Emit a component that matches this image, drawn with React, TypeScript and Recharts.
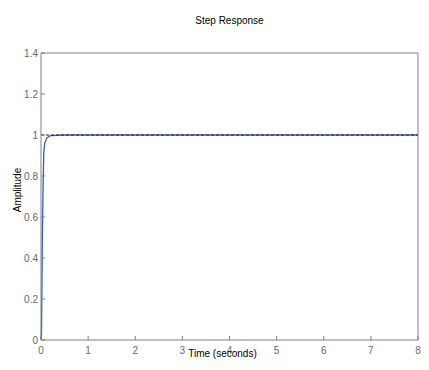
import React from 'react';
import { LineChart, Line, XAxis, YAxis, ReferenceLine } from 'recharts';

const timeValues = [0, 0.01, 0.02, 0.03, 0.045, 0.06, 0.08, 0.12, 0.2, 0.5, 8];
const amplitudeValues = [0, 0.02, 0.27, 0.52, 0.76, 0.92, 0.96, 0.985, 0.997, 1.0, 1.0];
const xTicks = [0, 1, 2, 3, 4, 5, 6, 7, 8];
const yTicks = [0, 0.2, 0.4, 0.6, 0.8, 1, 1.2, 1.4];
const steadyState = 1;

const data = timeValues.map((t, i) => ({ t, y: amplitudeValues[i] }));

const FONT = '"Liberation Sans", Arial, sans-serif';
const axisColor = '#808080';
const tickText = { fill: '#666', fontSize: 10, fontFamily: FONT };

export default function App() {
  return (
    <div style={{ position: 'absolute', left: 0, top: 0 }}>
      <LineChart
        width={429}
        height={370}
        data={data}
        margin={{ top: 0, right: 0, bottom: 0, left: 0 }}
      >
        <XAxis
          xAxisId="b"
          dataKey="t"
          type="number"
          domain={[0, 8]}
          ticks={xTicks}
          height={30}
          tickSize={-4}
          tickMargin={11}
          stroke={axisColor}
          tick={tickText}
          interval={0}
          label={{ value: 'Time (seconds)', position: 'insideBottom', offset: 13, fill: '#000', fontSize: 10, fontFamily: FONT, dx: -7 }}
        />
        <XAxis
          xAxisId="top"
          dataKey="t"
          type="number"
          orientation="top"
          domain={[0, 8]}
          ticks={xTicks}
          height={53}
          tickSize={-4}
          stroke={axisColor}
          tick={false}
          interval={0}
          label={{ value: 'Step Response', position: 'insideTop', offset: 17, fill: '#000', fontSize: 10, fontFamily: FONT }}
        />
        <YAxis
          yAxisId="l"
          type="number"
          domain={[0, 1.4]}
          ticks={yTicks}
          width={41}
          tickSize={-4}
          tickMargin={7}
          stroke={axisColor}
          tick={tickText}
          interval={0}
          label={{
            value: 'Amplitude',
            content: () => (
              <text
                x={21}
                y={190}
                transform="rotate(-90 21 190)"
                textAnchor="middle"
                fill="#000"
                fontSize={10}
                fontFamily={FONT}
              >
                Amplitude
              </text>
            ),
          }}
        />
        <YAxis
          yAxisId="r"
          orientation="right"
          type="number"
          domain={[0, 1.4]}
          ticks={yTicks}
          width={11}
          tickSize={-4}
          stroke={axisColor}
          tick={false}
          interval={0}
        />
        <Line
          xAxisId="b"
          yAxisId="l"
          dataKey="y"
          type="linear"
          stroke="#2f5fbf"
          strokeWidth={1.3}
          dot={false}
          isAnimationActive={false}
        />
        <ReferenceLine
          xAxisId="b"
          yAxisId="l"
          y={steadyState}
          stroke="#222"
          strokeWidth={1.2}
          strokeDasharray="3 2"
        />
      </LineChart>
    </div>
  );
}
